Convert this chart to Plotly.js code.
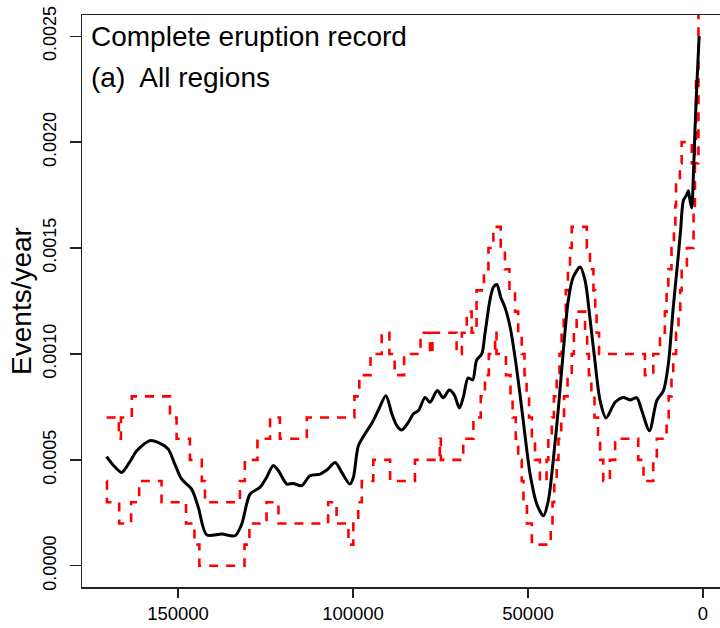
<!DOCTYPE html>
<html>
<head>
<meta charset="utf-8">
<script src="https://cdn.plot.ly/plotly-3.0.1.min.js"></script>
<style>html,body{margin:0;padding:0;background:#fff;}#chart{width:720px;height:628px;}</style>
</head>
<body>
<div id="chart"></div>
<script>
// Smoothed eruption rate (years before present, events/year)
const rateYears = [170400,168500,166100,163800,161800,158000,155100,152800,150900,149000,146100,144200,141800,137500,133700,131800,129400,126600,124700,122800,121300,118900,117100,114700,112300,109400,107500,105100,103200,100900,99900,98500,96600,94700,92800,90600,88900,87500,86100,84200,82800,81300,79400,78000,75900,74200,72500,71100,69600,68500,67100,65800,64700,63200,62300,60900,59900,58900,57800,56600,55100,53700,52300,50900,49400,47500,45600,44200,42800,41300,39900,38500,37100,35100,33700,32300,30900,29400,27700,25100,22800,20900,18900,17500,15300,13200,11300,9900,8500,7100,6400,5600,4700,4200,3700,3200,2800,2300,1700,1100];
const rateValues = [0.000515,0.000475,0.000441,0.000490,0.000543,0.000591,0.000578,0.000551,0.000480,0.000410,0.000362,0.000276,0.000146,0.000150,0.000142,0.000197,0.000339,0.000370,0.000417,0.000473,0.000449,0.000386,0.000389,0.000378,0.000425,0.000433,0.000452,0.000488,0.000441,0.000386,0.000417,0.000565,0.000622,0.000670,0.000733,0.000803,0.000717,0.000662,0.000641,0.000677,0.000717,0.000733,0.000795,0.000772,0.000827,0.000793,0.000830,0.000808,0.000745,0.000795,0.000887,0.000878,0.000970,0.001000,0.001095,0.001252,0.001315,0.001328,0.001268,0.001221,0.001126,0.000984,0.000811,0.000622,0.000433,0.000292,0.000236,0.000307,0.000496,0.000748,0.001016,0.001252,0.001362,0.001410,0.001347,0.001170,0.000969,0.000780,0.000698,0.000772,0.000795,0.000783,0.000793,0.000733,0.000638,0.000780,0.000827,0.000953,0.001220,0.001457,0.001583,0.001725,0.001750,0.001770,0.001725,0.001690,0.001820,0.002056,0.002290,0.002500];

// Upper confidence bound (step function)
const upperYears = [170400,166900,166300,163200,152300,150400,146600,143200,142300,132300,130900,127300,123700,120900,113200,99600,98200,95000,91800,89600,88100,85400,80700,78000,77300,70400,68900,67500,66100,64700,62600,61300,59900,57800,56600,55300,53700,52800,51800,51000,50400,49700,48900,48000,46600,44700,44200,43200,42600,41800,41000,40400,39800,39200,38600,38000,37500,33200,32300,31300,30800,30400,29700,16600,14200,12300,10900,10400,9900,9000,8300,7900,7700,6600,6100,3200,1300,1100];
const upperValues = [0.0007,0.0006,0.0007,0.0008,0.0007,0.0006,0.0005,0.0004,0.0003,0.0004,0.0005,0.0006,0.0007,0.0006,0.0007,0.0008,0.0009,0.0010,0.0011,0.0010,0.0009,0.0010,0.0011,0.0010,0.0011,0.0010,0.0011,0.0012,0.0011,0.0013,0.0014,0.0015,0.0016,0.0015,0.0014,0.0013,0.0012,0.0011,0.0010,0.0009,0.0008,0.0007,0.0006,0.0005,0.0004,0.0005,0.0006,0.0007,0.0008,0.0009,0.0010,0.0011,0.0012,0.0013,0.0014,0.0015,0.0016,0.0015,0.0014,0.0013,0.0012,0.0011,0.0010,0.0009,0.0010,0.0011,0.0012,0.0013,0.0014,0.0015,0.0016,0.0017,0.0018,0.0019,0.0020,0.0019,0.0028,0.0028];

// Lower confidence bound (step function)
const lowerYears = [170400,170300,166800,163400,161100,154700,147700,145300,143900,131000,129600,124700,121300,107100,104700,101300,99900,98500,97500,94200,89400,82300,75200,74900,68500,65600,63500,62300,61200,59400,59000,56300,55000,54400,53500,52800,51800,51300,50300,48900,43500,43000,42500,41800,41300,40500,39700,38700,37500,36900,36100,33700,33100,32600,31900,31000,30000,29400,28500,26600,25100,18500,17000,14200,13200,10400,9800,9000,8500,7700,7000,6500,6100,4600,2700,2300,2000,1100];
const lowerValues = [0.0004,0.0003,0.0002,0.0003,0.0004,0.0003,0.0002,0.0001,0.0000,0.0001,0.0002,0.0003,0.0002,0.0003,0.0002,0.0001,0.0002,0.0003,0.0004,0.0005,0.0004,0.0005,0.0006,0.0005,0.0006,0.0007,0.0008,0.0009,0.0010,0.0011,0.0010,0.0009,0.0008,0.0007,0.0006,0.0005,0.0004,0.0003,0.0002,0.0001,0.0002,0.0003,0.0004,0.0005,0.0006,0.0007,0.0008,0.0009,0.0010,0.0011,0.0012,0.0011,0.0010,0.0009,0.0008,0.0007,0.0006,0.0005,0.0004,0.0005,0.0006,0.0005,0.0004,0.0005,0.0006,0.0007,0.0008,0.0009,0.0010,0.0011,0.0012,0.0013,0.0014,0.0015,0.0017,0.0020,0.0023,0.0023];

const xTickVals = [150000,100000,50000,0];
const xTickText = ['150000','100000','50000','0'];
const yTickVals = [0,0.0005,0.0010,0.0015,0.0020,0.0025];
const yTickText = ['0.0000','0.0005','0.0010','0.0015','0.0020','0.0025'];

const FONT = 'Liberation Sans, Arial, Helvetica, sans-serif';
const dashStyle = {color:'#ff0000', width:2.6, dash:'9px,8px', shape:'hv'};

const traces = [
  {x: upperYears, y: upperValues, type:'scatter', mode:'lines', line: dashStyle, hoverinfo:'skip', name:'upper'},
  {x: lowerYears, y: lowerValues, type:'scatter', mode:'lines', line: dashStyle, hoverinfo:'skip', name:'lower'},
  {x: rateYears, y: rateValues, type:'scatter', mode:'lines', line:{color:'#000', width:3, shape:'spline', smoothing:0.8}, name:'rate'}
];

const layout = {
  width:720, height:628,
  margin:{l:82, r:0, t:15, b:41},
  paper_bgcolor:'#fff', plot_bgcolor:'#fff',
  showlegend:false,
  font:{family:FONT, color:'#000'},
  xaxis:{
    range:[177430,-4856], showgrid:false, zeroline:false,
    showline:true, mirror:true, linecolor:'#222', linewidth:1.5,
    ticks:'outside', ticklen:9, tickwidth:1.3, tickcolor:'#222',
    tickmode:'array', tickvals:xTickVals, ticktext:xTickText,
    tickfont:{family:FONT, size:18.5, color:'#000'}
  },
  yaxis:{
    range:[-0.0001,0.0026], showgrid:false, zeroline:false,
    showline:true, mirror:false, linecolor:'#222', linewidth:1.5,
    ticks:'outside', ticklen:11, tickwidth:1.3, tickcolor:'#222',
    tickmode:'array', tickvals:yTickVals, ticktext:yTickText, tickangle:-90,
    ticklabelstandoff:6,
    tickfont:{family:FONT, size:18, color:'#000'},
    title:{text:'Events/year', font:{family:FONT, size:28, color:'#000'}, standoff:0}
  },
  annotations:[
    {text:'Complete eruption record', xref:'paper', yref:'paper', x:0.011, y:0.962, xanchor:'left', yanchor:'middle', showarrow:false, font:{family:FONT, size:28, color:'#000'}},
    {text:'(a)  All regions', xref:'paper', yref:'paper', x:0.011, y:0.89, xanchor:'left', yanchor:'middle', showarrow:false, font:{family:FONT, size:28, color:'#000'}}
  ]
};

Plotly.newPlot('chart', traces, layout, {displayModeBar:false, staticPlot:true});
</script>
</body>
</html>
